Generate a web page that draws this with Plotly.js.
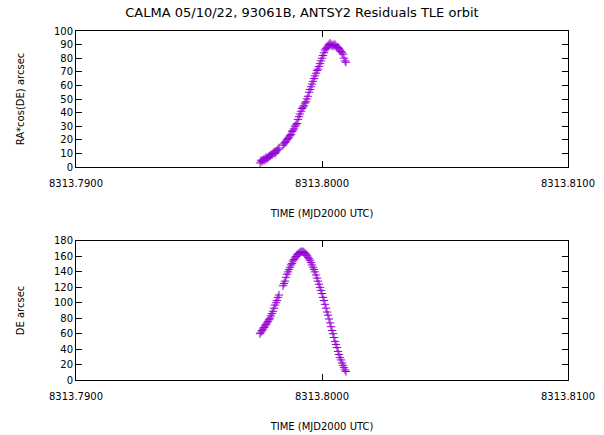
<!DOCTYPE html>
<html>
<head>
<meta charset="utf-8">
<script src="https://cdn.plot.ly/plotly-3.0.1.min.js"></script>
<style>html,body{margin:0;padding:0;background:#fff;}#chart{width:604px;height:435px;}</style>
</head>
<body>
<div id="chart"></div>
<script>
// Times (MJD2000 UTC)
const timeMJD = [
  8313.797480, 8313.797520, 8313.797561, 8313.797602, 8313.797642, 8313.797683, 8313.797724, 8313.797764,
  8313.797805, 8313.797846, 8313.797886, 8313.797927, 8313.797968, 8313.798008, 8313.798049, 8313.798089,
  8313.798130, 8313.798171, 8313.798211, 8313.798252,
  8313.798415, 8313.798455, 8313.798496, 8313.798537, 8313.798577, 8313.798618, 8313.798659, 8313.798699,
  8313.798740, 8313.798780, 8313.798821, 8313.798862, 8313.798902, 8313.798943, 8313.798984, 8313.799024,
  8313.799065, 8313.799106, 8313.799146, 8313.799187, 8313.799228, 8313.799268, 8313.799309, 8313.799350,
  8313.799390, 8313.799431, 8313.799472, 8313.799512, 8313.799553, 8313.799593, 8313.799634, 8313.799675,
  8313.799715, 8313.799756, 8313.799797, 8313.799837, 8313.799878, 8313.799919, 8313.799959, 8313.800000,
  8313.800041, 8313.800081, 8313.800122, 8313.800163, 8313.800203, 8313.800244, 8313.800285, 8313.800325,
  8313.800366, 8313.800407, 8313.800447, 8313.800488, 8313.800528, 8313.800569, 8313.800610, 8313.800650,
  8313.800691, 8313.800732, 8313.800772, 8313.800813, 8313.800854, 8313.800894, 8313.800935, 8313.800976
];
// RA*cos(DE) residuals (arcsec)
const raResid = [
  3, 5, 4, 5, 6, 5, 7, 6,
  7, 8, 8, 9, 9, 10, 11, 10,
  11, 12, 13, 14,
  16, 17, 18, 19, 20, 21, 22, 23,
  24, 26, 27, 28, 30, 31, 32, 35,
  37, 39, 41, 43, 44, 45, 47, 48,
  50, 52, 55, 57, 59, 61, 63, 65,
  67, 69, 71, 72, 74, 76, 78, 80,
  82, 84, 86, 87, 88, 89, 90, 91,
  90, 89, 90, 89, 90, 89, 88, 88,
  87, 86, 85, 84, 83, 80, 78, 77
];
// DE residuals (arcsec)
const deResid = [
  60, 62, 64, 66, 68, 70, 72, 74,
  76, 78, 80, 83, 86, 89, 93, 97,
  100, 103, 107, 110,
  122, 125, 128, 133, 137, 140, 143, 146,
  149, 151, 154, 156, 158, 160, 162, 163,
  164, 165, 166, 166, 166, 165, 164, 163,
  161, 159, 157, 155, 152, 149, 146, 143,
  140, 136, 132, 128, 124, 120, 116, 112,
  107, 103, 98, 93, 88, 84, 79, 74,
  69, 64, 60, 55, 50, 46, 42, 37,
  33, 29, 26, 22, 19, 16, 13, 11
];
const xTickVals = [8313.79, 8313.80, 8313.81];
const xTickText = ["8313.7900", "8313.8000", "8313.8100"];
const raTicks = [0,10,20,30,40,50,60,70,80,90,100];
const deTicks = [0,20,40,60,80,100,120,140,160,180];

const purple = '#9400D3';
const FONT = 'DejaVu Sans, Verdana, sans-serif';
const mk = {symbol:'cross-thin-open', size:6, color:purple, line:{color:purple, width:1}};

const traces = [
  {x: timeMJD, y: raResid, mode:'markers', type:'scatter', marker: mk, xaxis:'x', yaxis:'y', hoverinfo:'skip'},
  {x: timeMJD, y: deResid, mode:'markers', type:'scatter', marker: mk, xaxis:'x2', yaxis:'y2', hoverinfo:'skip'}
];

function xax(anchor){
  return {
    anchor: anchor, range:[8313.79, 8313.81], tickvals: xTickVals, ticktext: xTickText,
    showline:true, linecolor:'#000', linewidth:1, mirror:'allticks', ticks:'inside', ticklen:6, tickcolor:'#000',
    ticklabelstandoff:7,
    showgrid:false, zeroline:false, tickfont:{family:FONT, size:10, color:'#000'},
    title:{text:'TIME (MJD2000 UTC)', font:{family:FONT, size:10, color:'#000'}, standoff:21}
  };
}
function yax(anchor, dom, rng, ticks, title){
  return {
    anchor: anchor, domain: dom, range: rng, tickvals: ticks,
    showline:true, linecolor:'#000', linewidth:1, mirror:'allticks', ticks:'inside', ticklen:6, tickcolor:'#000',
    showgrid:false, zeroline:false, tickfont:{family:FONT, size:10, color:'#000'},
    title:{text:title, font:{family:FONT, size:10, color:'#000'}, standoff:27}
  };
}

const layout = {
  width:604, height:435,
  margin:{l:76, r:36, t:31, b:55},
  paper_bgcolor:'#fff', plot_bgcolor:'#fff',
  showlegend:false,
  title:{text:'CALMA 05/10/22, 93061B, ANTSY2 Residuals TLE orbit', font:{family:FONT, size:13, color:'#000'}, x:0.5, xanchor:'center', y:0.972, yanchor:'middle'},
  xaxis: xax('y'),
  yaxis: yax('x', [0.6103, 1], [0, 100], raTicks, 'RA*cos(DE) arcsec'),
  xaxis2: xax('y2'),
  yaxis2: yax('x2', [0, 0.3983], [0, 180], deTicks, 'DE arcsec')
};

Plotly.newPlot('chart', traces, layout, {staticPlot:true, displayModeBar:false});
</script>
</body>
</html>
